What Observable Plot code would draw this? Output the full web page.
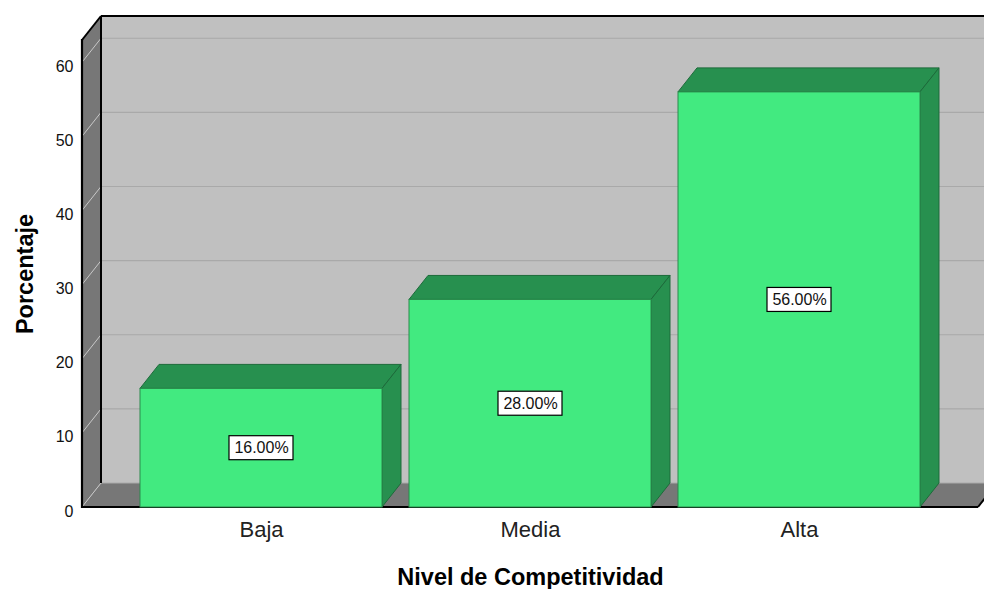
<!DOCTYPE html>
<html>
<head>
<meta charset="utf-8">
<script src="https://cdn.jsdelivr.net/npm/d3@7"></script>
<script src="https://cdn.jsdelivr.net/npm/@observablehq/plot@0.6"></script>
<style>
  body { margin: 0; background: #ffffff; }
  #chart svg { display: block; }
</style>
</head>
<body>
<div id="chart"></div>
<script>
// Nivel de Competitividad — distribución porcentual
const categories = ["Baja", "Media", "Alta"];
const percentages = [16, 28, 56];
const valueLabels = ["16.00%", "28.00%", "56.00%"];
const yTicks = [0, 10, 20, 30, 40, 50, 60];
const yMax = 63;

// pseudo-3D depth offset, in pixels
const depthX = 19, depthY = 24;
const font = "'Liberation Sans', Arial, Helvetica, sans-serif";

const svgNS = "http://www.w3.org/2000/svg";
function el(name, attrs) {
  const e = document.createElementNS(svgNS, name);
  for (const k in attrs) e.setAttribute(k, attrs[k]);
  return e;
}
const pts = (arr) => arr.map(p => p.join(",")).join(" ");
function line(g, x1, y1, x2, y2, stroke, w) {
  g.append(el("line", {x1, y1, x2, y2, stroke, "stroke-width": w}));
}

// Back wall, side wall, floor and grid of the 3D box
function chamber(index, scales, values, dims) {
  const {y} = scales;
  const g = el("g", {});
  const x0 = dims.marginLeft, x1 = dims.width - dims.marginRight;
  const yb = y(0), yt = y(yMax);
  g.append(el("rect", {x: x0 + depthX, y: yt - depthY, width: x1 - x0 + 20, height: yb - yt, fill: "#c0c0c0"}));
  g.append(el("polygon", {points: pts([[x0, yt], [x0 + depthX, yt - depthY], [x0 + depthX, yb - depthY], [x0, yb]]), fill: "#777777"}));
  g.append(el("polygon", {points: pts([[x0, yb], [x0 + depthX, yb - depthY], [x1 + depthX, yb - depthY], [x1, yb]]), fill: "#777777"}));
  for (const t of yTicks) {
    const ty = y(t);
    line(g, x0 + depthX, ty - depthY, x1 + depthX + 20, ty - depthY, "#a9a9a9", 1.2);
    line(g, x0, ty, x0 + depthX, ty - depthY, "#c8c8c8", 1);
  }
  // frame edges
  line(g, x0 + depthX, yt - depthY, x1 + depthX + 20, yt - depthY, "#000", 2);
  line(g, x0 + depthX, yt - depthY, x0 + depthX, yb - depthY, "#000", 2);
  line(g, x0, yt, x0 + depthX, yt - depthY, "#000", 2);
  line(g, x0, yt - 1, x0, yb + 1, "#000", 2.2);
  line(g, x0, yb, x1, yb, "#000", 2.2);
  line(g, x1, yb, x1 + depthX, yb - depthY, "#000", 2);
  return g;
}

// 3D bars with value boxes
function bars(index, scales, values, dims) {
  const {x, y} = scales;
  const bw = x.bandwidth();
  const g = el("g", {});
  const by = y(0);
  categories.forEach((c, i) => {
    const bx = x(c), ty = y(percentages[i]);
    g.append(el("polygon", {
      points: pts([[bx, ty], [bx + depthX, ty - depthY], [bx + bw + depthX, ty - depthY], [bx + bw, ty]]),
      fill: "#27904f", stroke: "#1c6b3a", "stroke-width": 1, "stroke-linejoin": "round"
    }));
    g.append(el("polygon", {
      points: pts([[bx + bw, ty], [bx + bw + depthX, ty - depthY], [bx + bw + depthX, by - depthY], [bx + bw, by]]),
      fill: "#27904f", stroke: "#1c6b3a", "stroke-width": 1, "stroke-linejoin": "round"
    }));
    g.append(el("rect", {x: bx, y: ty, width: bw, height: by - ty, fill: "#42ea80", stroke: "#2a8a4c", "stroke-width": 1}));
    const cy = y(percentages[i] / 2);
    g.append(el("rect", {x: bx + bw / 2 - 32, y: cy - 12, width: 64, height: 24, fill: "#ffffff", stroke: "#000", "stroke-width": 1.2}));
  });
  return g;
}

const chart = Plot.plot({
  width: 984,
  height: 589,
  marginLeft: 82,
  marginRight: 6,
  marginTop: 40,
  marginBottom: 82,
  style: {fontFamily: font, background: "#ffffff", color: "#000"},
  x: {type: "band", domain: categories, paddingInner: 0.102, paddingOuter: 0.215, axis: null},
  y: {domain: [0, yMax], axis: null},
  marks: [
    chamber,
    bars,
    Plot.text(categories, {
      x: (d, i) => categories[i], y: (d, i) => percentages[i] / 2,
      text: (d, i) => valueLabels[i], fontSize: 16, fill: "#111"
    }),
    Plot.text(yTicks, {
      y: d => d, text: d => String(d), frameAnchor: "left",
      textAnchor: "end", dx: -9, dy: 4, fontSize: 16, fill: "#111"
    }),
    Plot.text(categories, {
      x: d => d, text: d => d, frameAnchor: "bottom", dy: 29, fontSize: 22, fill: "#222"
    }),
    Plot.text(["Nivel de Competitividad"], {
      text: d => d, frameAnchor: "bottom", dy: 77, fontSize: 23.5, fontWeight: "bold", fill: "#000"
    }),
    Plot.text(["Porcentaje"], {
      text: d => d, frameAnchor: "left", textAnchor: "middle", rotate: -90, dx: -57,
      fontSize: 23.5, fontWeight: "bold", fill: "#000"
    })
  ]
});

document.getElementById("chart").append(chart);
</script>
</body>
</html>
